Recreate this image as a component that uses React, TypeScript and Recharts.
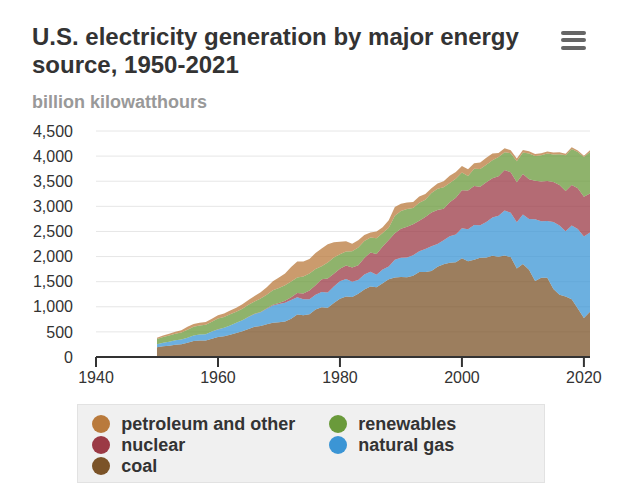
import React from "react";
import { Area, AreaChart, CartesianGrid, XAxis, YAxis } from "recharts";

// billion kilowatthours, 1950-2021
const years = [
  1950, 1951, 1952, 1953, 1954, 1955, 1956, 1957, 1958, 1959,
  1960, 1961, 1962, 1963, 1964, 1965, 1966, 1967, 1968, 1969,
  1970, 1971, 1972, 1973, 1974, 1975, 1976, 1977, 1978, 1979,
  1980, 1981, 1982, 1983, 1984, 1985, 1986, 1987, 1988, 1989,
  1990, 1991, 1992, 1993, 1994, 1995, 1996, 1997, 1998, 1999,
  2000, 2001, 2002, 2003, 2004, 2005, 2006, 2007, 2008, 2009,
  2010, 2011, 2012, 2013, 2014, 2015, 2016, 2017, 2018, 2019,
  2020, 2021,
];

const coal = [
  193, 215, 225, 245, 255, 285, 320, 330, 330, 365,
  400, 415, 445, 480, 515, 560, 600, 615, 650, 680,
  690, 705, 760, 845, 830, 850, 945, 990, 980, 1075,
  1160, 1205, 1195, 1260, 1345, 1405, 1390, 1470, 1550, 1585,
  1595, 1590, 1620, 1690, 1690, 1710, 1795, 1845, 1875, 1885,
  1965, 1905, 1935, 1975, 1980, 2015, 1995, 2020, 1990, 1760,
  1850, 1735, 1515, 1580, 1580, 1355, 1240, 1205, 1150, 965,
  775, 900,
];

const naturalGas = [
  60, 70, 80, 90, 95, 100, 110, 120, 125, 145,
  150, 165, 180, 200, 215, 235, 255, 275, 310, 345,
  365, 375, 375, 345, 320, 300, 295, 305, 305, 330,
  346, 346, 305, 275, 297, 292, 249, 273, 253, 352,
  380, 390, 405, 415, 460, 496, 455, 480, 531, 556,
  601, 639, 691, 650, 710, 761, 816, 897, 883, 921,
  988, 1014, 1226, 1125, 1127, 1335, 1379, 1297, 1469, 1586,
  1624, 1579,
];

const nuclear = [
  0, 0, 0, 0, 0, 0, 0, 0, 0, 0,
  1, 2, 2, 3, 3, 4, 6, 8, 13, 14,
  22, 38, 54, 83, 114, 173, 191, 251, 276, 255,
  251, 273, 283, 294, 328, 384, 414, 455, 527, 529,
  577, 613, 619, 610, 640, 673, 675, 629, 674, 728,
  754, 769, 780, 764, 789, 782, 787, 806, 806, 799,
  807, 790, 769, 789, 797, 797, 806, 805, 807, 809,
  790, 778,
];

const renewables = [
  105, 115, 125, 130, 140, 160, 170, 175, 185, 190,
  215, 215, 225, 220, 230, 240, 245, 265, 265, 290,
  295, 310, 315, 310, 340, 340, 320, 260, 320, 320,
  290, 275, 325, 350, 340, 300, 310, 270, 245, 345,
  357, 355, 325, 356, 341, 385, 424, 428, 383, 381,
  356, 289, 344, 356, 351, 358, 386, 352, 380, 418,
  427, 513, 494, 523, 546, 544, 613, 708, 714, 720,
  792, 826,
];

const petroleumOther = [
  26, 30, 35, 40, 45, 55, 55, 55, 55, 60,
  65, 70, 75, 80, 85, 95, 110, 125, 150, 180,
  210, 235, 290, 320, 300, 290, 320, 355, 365, 305,
  246, 206, 147, 144, 120, 100, 137, 118, 149, 175,
  140, 130, 115, 125, 115, 95, 105, 115, 145, 135,
  125, 135, 110, 130, 135, 135, 80, 80, 60, 52,
  52, 45, 37, 40, 43, 40, 37, 34, 37, 30,
  28, 32,
];

const yTicks = [0, 500, 1000, 1500, 2000, 2500, 3000, 3500, 4000, 4500];
const xTicks = [1940, 1960, 1980, 2000, 2020];

const data = years.map((year, i) => ({
  year,
  coal: coal[i],
  gas: naturalGas[i],
  nuclear: nuclear[i],
  renewables: renewables[i],
  petroleum: petroleumOther[i],
}));

// stacked bottom to top
const series = [
  { key: "coal", name: "coal", color: "#7b5328" },
  { key: "gas", name: "natural gas", color: "#3b95d5" },
  { key: "nuclear", name: "nuclear", color: "#9b3a45" },
  { key: "renewables", name: "renewables", color: "#6a9a3b" },
  { key: "petroleum", name: "petroleum and other", color: "#b97a3c" },
];

const legendOrder = ["petroleum", "renewables", "nuclear", "gas", "coal"];

const font = "'Liberation Sans', Arial, sans-serif";

const App = () => {
  return (
    <div
      style={{
        position: "absolute",
        left: 0,
        top: 0,
        width: 640,
        height: 503,
        background: "#fff",
        fontFamily: font,
        overflow: "hidden",
      }}
    >
      <div style={{ position: "absolute", left: 0, top: 0 }}>
        <AreaChart
          width={640}
          height={503}
          data={data}
          margin={{ top: 131, right: 50, bottom: 0, left: 0 }}
        >
          <CartesianGrid vertical={false} stroke="#e6e6e6" strokeWidth={1} />
          <XAxis
            dataKey="year"
            type="number"
            domain={[1940, 2021]}
            ticks={xTicks}
            height={146}
            tickSize={10}
            tickMargin={5}
            axisLine={{ stroke: "#333", strokeWidth: 2 }}
            tickLine={{ stroke: "#333", strokeWidth: 2 }}
            tick={{ fill: "#333", fontSize: 16, fontFamily: font }}
            allowDataOverflow
          />
          <YAxis
            width={96}
            domain={[0, 4500]}
            ticks={yTicks}
            axisLine={false}
            tickLine={false}
            tickSize={0}
            tickMargin={23}
            tick={{ fill: "#333", fontSize: 16, fontFamily: font }}
            tickFormatter={(v: number) => v.toLocaleString("en-US")}
          />
          {series.map((s) => (
            <Area
              key={s.key}
              type="linear"
              dataKey={s.key}
              name={s.name}
              stackId="gen"
              stroke="none"
              fill={s.color}
              fillOpacity={0.75}
              isAnimationActive={false}
              dot={false}
              activeDot={false}
            />
          ))}
        </AreaChart>
      </div>

      <div
        style={{
          position: "absolute",
          left: 32,
          top: 23,
          width: 500,
          fontSize: 24,
          lineHeight: "28px",
          fontWeight: "bold",
          color: "#333",
        }}
      >
        U.S. electricity generation by major energy
        <br />
        source, 1950-2021
      </div>
      <div
        style={{
          position: "absolute",
          left: 32,
          top: 92,
          fontSize: 18,
          lineHeight: "21px",
          fontWeight: "bold",
          color: "#999",
        }}
      >
        billion kilowatthours
      </div>

      {/* menu icon */}
      {[32.7, 40, 47.7].map((y) => (
        <div
          key={y}
          style={{
            position: "absolute",
            left: 561,
            top: y - 2,
            width: 25,
            height: 4,
            borderRadius: 2,
            background: "#666",
          }}
        />
      ))}

      <div
        style={{
          position: "absolute",
          left: 77,
          top: 404,
          width: 468,
          height: 79,
          boxSizing: "border-box",
          background: "#f0f0f0",
          border: "1px solid #e2e2e2",
        }}
      />
      {legendOrder.map((k, i) => {
        const s = series.find((x) => x.key === k)!;
        const col = i % 2;
        const row = Math.floor(i / 2);
        const cx = col === 0 ? 100.7 : 337.7;
        const cy = 424.3 + row * 21;
        return (
          <React.Fragment key={k}>
            <div
              style={{
                position: "absolute",
                left: cx - 9,
                top: cy - 9,
                width: 18,
                height: 18,
                borderRadius: 9,
                background: s.color,
              }}
            />
            <div
              style={{
                position: "absolute",
                left: cx + 20.5,
                top: cy - 10.5,
                fontSize: 18,
                lineHeight: "21px",
                fontWeight: "bold",
                color: "#333",
                whiteSpace: "nowrap",
              }}
            >
              {s.name}
            </div>
          </React.Fragment>
        );
      })}
    </div>
  );
};

export default App;
